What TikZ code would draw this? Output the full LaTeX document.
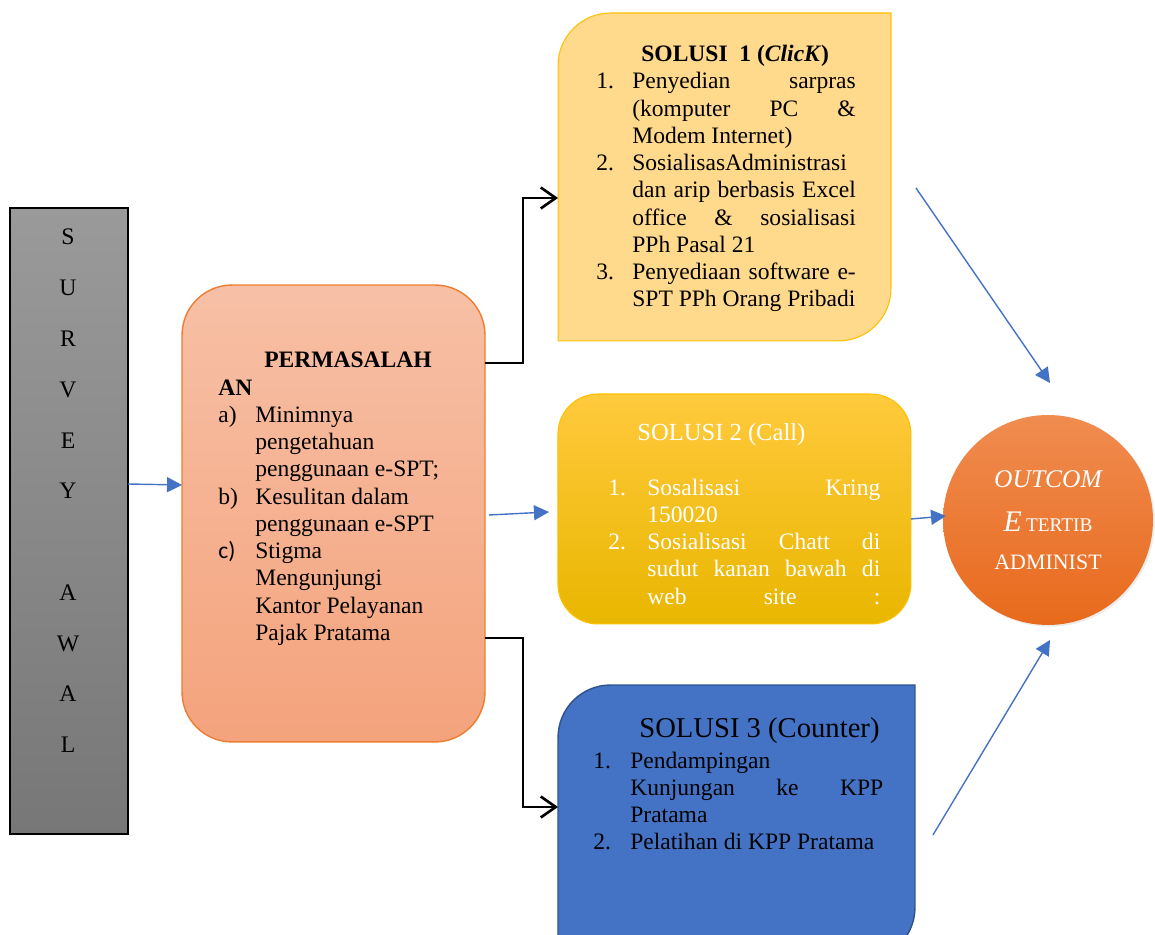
\documentclass[tikz,border=0pt]{standalone}
\usepackage{fontspec}
\setmainfont{Liberation Serif}
\newfontfamily\calfont{Carlito}
\usetikzlibrary{positioning,arrows.meta,shadows}

\definecolor{arrowblue}{HTML}{4472C4}
\definecolor{greytop}{HTML}{9A9A9A}
\definecolor{greybot}{HTML}{777777}
\definecolor{permtop}{HTML}{F7C0A6}
\definecolor{permbot}{HTML}{F4A37C}
\definecolor{permline}{HTML}{ED7D31}
\definecolor{solone}{HTML}{FFD98C}
\definecolor{goldline}{HTML}{FFC000}
\definecolor{soltwotop}{HTML}{FFCA3C}
\definecolor{soltwobot}{HTML}{E9B600}
\definecolor{solthree}{HTML}{4472C4}
\definecolor{solthreeline}{HTML}{2F528F}
\definecolor{outtop}{HTML}{F08C50}
\definecolor{outbot}{HTML}{E86A1C}

\newlength{\numw}
\newlength{\txtw}
\newcommand{\jrow}[2]{\makebox[\numw][l]{#1}\makebox[\txtw][s]{#2}}
\newcommand{\lrow}[2]{\makebox[\numw][l]{#1}#2}
\newcommand{\bodyfont}{\fontsize{13.4}{15.5}\selectfont}

\tikzset{
    box/.style={inner sep=0pt, outer sep=0pt},
    survey/.style={box, draw=black, line width=0.7pt, top color=greytop, bottom color=greybot,
        minimum width=2.36cm, minimum height=12.52cm},
    perm/.style={box, draw=permline, line width=0.8pt, rounded corners=1cm,
        top color=permtop, bottom color=permbot, minimum width=6.06cm, minimum height=9.14cm},
    soltwo/.style={box, draw=goldline, line width=0.6pt, rounded corners=0.8cm,
        top color=soltwotop, bottom color=soltwobot, minimum width=7.06cm, minimum height=4.6cm},
    solonefill/.style={fill=solone, draw=goldline, line width=0.6pt},
    solthreefill/.style={fill=solthree, draw=solthreeline, line width=0.8pt},
    outcome/.style={circle, box, minimum size=4.2cm, top color=outtop, bottom color=outbot,
        drop shadow={opacity=0.15, shadow xshift=1pt, shadow yshift=-1pt},
        text=white, align=center, font=\fontsize{14.5}{17}\selectfont},
    txt/.style={inner sep=0pt, align=left, font=\bodyfont, anchor=north west},
    cols/.style 2 args={execute at begin node={\global\numw=#1\global\txtw=#2}},
    letters/.style={inner sep=0pt, align=center, font=\fontsize{13.5}{28.9}\selectfont},
    flow/.style={draw=arrowblue, line width=0.8pt, -{Triangle[length=0.3cm,width=0.3cm]}},
    elbow/.style={draw=black, line width=1.5pt, -{Straight Barb[length=0.3cm,width=0.42cm]}}
}

\begin{document}
\begin{tikzpicture}[x=0.02cm, y=0.02cm]
    \useasboundingbox (0,0) rectangle (1155,935);
    \clip (0,0) rectangle (1155,935);

    % boxes
    \node[survey] (survey) at (69,414) {};
    \node[perm] (perm) at (333.5,421.5) {};
    \node[box, minimum width=6.66cm, minimum height=6.56cm] (sol1) at (724.5,758) {};
    \node[soltwo] (sol2) [right=1.46cm of perm, yshift=0.09cm] {};
    \node[box, minimum width=7.14cm, minimum height=5.5cm] (sol3) at (736.5,112.5) {};
    \node[outcome] (circ) at (1048,415)
        {\itshape OUTCOM\\[8.5pt]{\itshape\fontsize{17}{17}\selectfont E}\,{\fontsize{11}{11}\selectfont TERTIB}\\[4.5pt]{\fontsize{12.5}{12.5}\selectfont ADMINIST}};

    \path[solonefill] (sol1.south west) -- ([yshift=-1.05cm]sol1.north west)
        arc[start angle=180, end angle=90, radius=1.05cm] -- (sol1.north east)
        -- ([yshift=1.05cm]sol1.south east) arc[start angle=0, end angle=-90, radius=1.05cm] -- cycle;
    \path[solthreefill] (sol3.south west) -- ([yshift=-1.05cm]sol3.north west)
        arc[start angle=180, end angle=90, radius=1.05cm] -- (sol3.north east)
        -- ([yshift=1.05cm]sol3.south east) arc[start angle=0, end angle=-90, radius=1.05cm] -- cycle;

    % texts
    \node[letters] (survtxt) at (68,444) {S\\U\\R\\V\\E\\Y\\[28.9pt]A\\W\\A\\L};

    \node[txt, cols={0.74cm}{4cm}] (permtxt) at (218,583) {%
        \hspace*{0.92cm}\textbf{PERMASALAH}\\
        \textbf{AN}\\
        \lrow{a)}{Minimnya}\\
        \lrow{}{pengetahuan}\\
        \lrow{}{penggunaan e-SPT;}\\
        \lrow{b)}{Kesulitan dalam}\\
        \lrow{}{penggunaan e-SPT}\\
        \lrow{{\calfont c)}}{Stigma}\\
        \lrow{}{Mengunjungi}\\
        \lrow{}{Kantor Pelayanan}\\
        \lrow{}{Pajak Pratama}};

    \node[txt, cols={0.72cm}{4.47cm}] (sol1txt) at (596,890) {%
        \hspace*{0.9cm}\textbf{SOLUSI\ \ 1 (\textit{ClicK})}\\
        \jrow{1.}{Penyedian sarpras}\\
        \jrow{}{(komputer PC \&}\\
        \lrow{}{Modem Internet)}\\
        \lrow{2.}{SosialisasAdministrasi}\\
        \jrow{}{dan arip berbasis Excel}\\
        \jrow{}{office \& sosialisasi}\\
        \lrow{}{PPh Pasal 21}\\
        \jrow{3.}{Penyediaan software e-}\\
        \lrow{}{SPT PPh Orang Pribadi}};

    \node[txt, text=white, cols={0.78cm}{4.66cm}] (sol2txt) at (608,512) {%
        \hspace*{0.58cm}{\fontsize{14}{15.5}\selectfont SOLUSI 2 (Call)}\\[15.7pt]
        \jrow{1.}{Sosalisasi Kring}\\
        \lrow{}{150020}\\
        \jrow{2.}{Sosialisasi Chatt di}\\
        \jrow{}{sudut kanan bawah di}\\
        \jrow{}{web site :}};

    \node[txt, cols={0.74cm}{5.06cm}] (sol3txt) at (593,218) {%
        \hspace*{0.92cm}{\fontsize{16.3}{18}\selectfont SOLUSI 3 (Counter)}\\[2.1pt]
        \lrow{1.}{Pendampingan}\\
        \jrow{}{Kunjungan ke KPP}\\
        \lrow{}{Pratama}\\
        \lrow{2.}{Pelatihan di KPP Pratama}};

    % connectors
    \draw[flow] ([yshift=0.74cm]survey.east) -- ([yshift=0.57cm]perm.west);
    \draw[flow] ([xshift=0.08cm,yshift=-0.03cm]perm.east) -- ([xshift=-0.18cm,yshift=-0.06cm]sol2.west);
    \draw[elbow] ([yshift=3.01cm]perm.east) -- ++(0.76cm,0) |- ([yshift=-0.42cm]sol1.west);
    \draw[elbow] ([yshift=-2.49cm]perm.east) -- ++(0.76cm,0) |- ([yshift=0.31cm]sol3.west);
    \draw[flow] ([xshift=0.5cm,yshift=-0.22cm]sol1.east) -- ([xshift=0.04cm,yshift=0.64cm]circ.north);
    \draw[flow] ([yshift=-0.2cm]sol2.east) -- ([xshift=0.06cm,yshift=0.08cm]circ.west);
    \draw[flow] ([xshift=0.36cm,yshift=-0.25cm]sol3.east) -- ([xshift=0.04cm,yshift=-0.3cm]circ.south);
\end{tikzpicture}
\end{document}
